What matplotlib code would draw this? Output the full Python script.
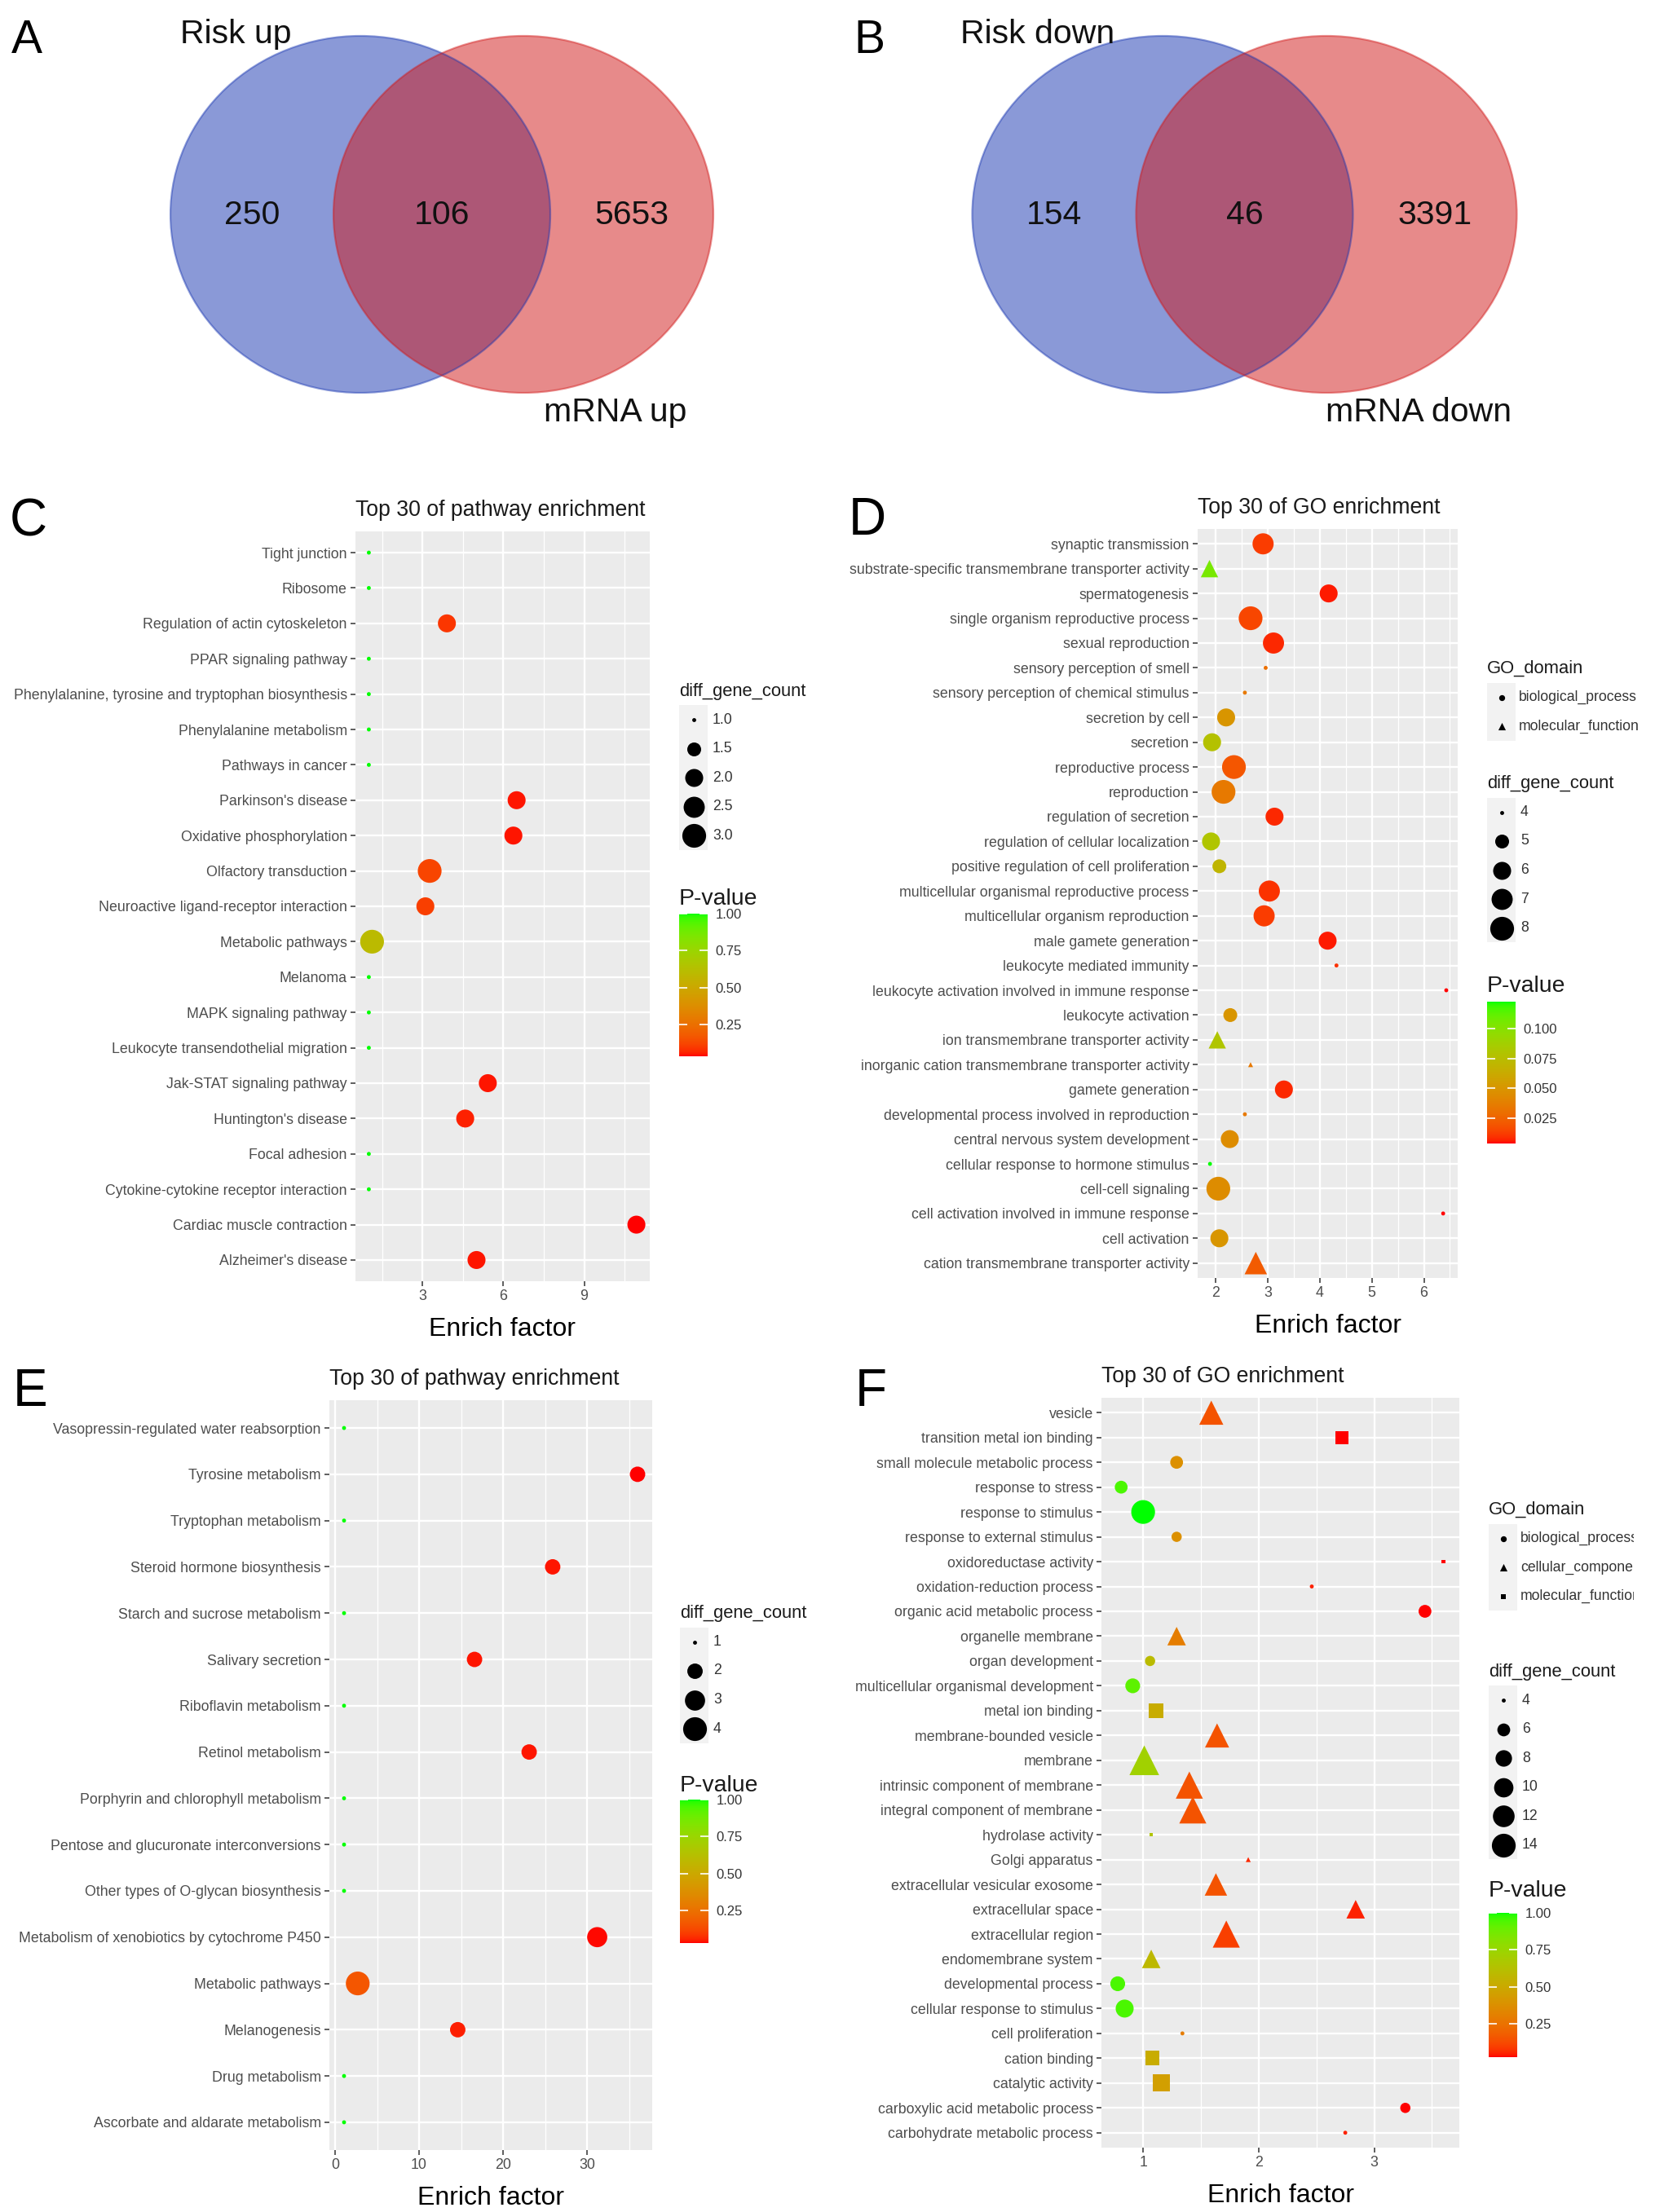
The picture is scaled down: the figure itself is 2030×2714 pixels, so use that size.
import numpy as np
import matplotlib
matplotlib.use("Agg")
import matplotlib.pyplot as plt
from matplotlib.patches import Ellipse, Rectangle
from matplotlib.colors import ListedColormap, Normalize
from matplotlib.cm import ScalarMappable

plt.rcParams['font.family'] = ['Liberation Sans', 'DejaVu Sans']

# ---------------- data ----------------
venn_a_names = ["Risk up", "mRNA up"]
venn_a_counts = [250, 106, 5653]      # left only, both, right only
venn_b_names = ["Risk down", "mRNA down"]
venn_b_counts = [154, 46, 3391]

c_terms = ["Tight junction", "Ribosome", "Regulation of actin cytoskeleton",
           "PPAR signaling pathway", "Phenylalanine, tyrosine and tryptophan biosynthesis",
           "Phenylalanine metabolism", "Pathways in cancer", "Parkinson's disease",
           "Oxidative phosphorylation", "Olfactory transduction",
           "Neuroactive ligand-receptor interaction", "Metabolic pathways", "Melanoma",
           "MAPK signaling pathway", "Leukocyte transendothelial migration",
           "Jak-STAT signaling pathway", "Huntington's disease", "Focal adhesion",
           "Cytokine-cytokine receptor interaction", "Cardiac muscle contraction",
           "Alzheimer's disease"]
c_factor = [1.0, 1.0, 3.9, 1.0, 1.0, 1.0, 1.0, 6.49, 6.37, 3.26, 3.1, 1.12, 1.0,
            1.0, 1.0, 5.42, 4.58, 1.0, 1.0, 10.94, 5.0]
c_count = [1, 1, 2, 1, 1, 1, 1, 2, 2, 3, 2, 3, 1, 1, 1, 2, 2, 1, 1, 2, 2]
c_pval = [1, 1, 0.09, 1, 1, 1, 1, 0.05, 0.05, 0.12, 0.11, 0.6, 1, 1, 1, 0.05,
          0.06, 1, 1, 0.037, 0.05]

d_terms = ["synaptic transmission", "substrate-specific transmembrane transporter activity",
           "spermatogenesis", "single organism reproductive process", "sexual reproduction",
           "sensory perception of smell", "sensory perception of chemical stimulus",
           "secretion by cell", "secretion", "reproductive process", "reproduction",
           "regulation of secretion", "regulation of cellular localization",
           "positive regulation of cell proliferation",
           "multicellular organismal reproductive process",
           "multicellular organism reproduction", "male gamete generation",
           "leukocyte mediated immunity", "leukocyte activation involved in immune response",
           "leukocyte activation", "ion transmembrane transporter activity",
           "inorganic cation transmembrane transporter activity", "gamete generation",
           "developmental process involved in reproduction",
           "central nervous system development", "cellular response to hormone stimulus",
           "cell-cell signaling", "cell activation involved in immune response",
           "cell activation", "cation transmembrane transporter activity"]
d_factor = [2.91, 1.88, 4.17, 2.67, 3.11, 2.96, 2.56, 2.2, 1.93, 2.35, 2.15, 3.13,
            1.91, 2.07, 3.03, 2.93, 4.15, 4.32, 6.43, 2.28, 2.03, 2.67, 3.31, 2.56,
            2.27, 1.89, 2.05, 6.37, 2.07, 2.77]
d_count = [7, 5, 6, 8, 7, 4, 4, 6, 6, 8, 8, 6, 6, 5, 7, 7, 6, 4, 4, 5, 5, 4, 6, 4,
           6, 4, 8, 4, 6, 6]
d_pval = [0.012, 0.105, 0.006, 0.015, 0.008, 0.03, 0.035, 0.05, 0.078, 0.02, 0.035,
          0.008, 0.08, 0.07, 0.01, 0.012, 0.006, 0.01, 0.004, 0.05, 0.08, 0.035,
          0.008, 0.035, 0.045, 0.1225, 0.045, 0.004, 0.05, 0.022]
d_levels = ["biological_process", "molecular_function"]
d_domain = ["biological_process"] * 30
for i in (1, 20, 21, 29):
    d_domain[i] = "molecular_function"

e_terms = ["Vasopressin-regulated water reabsorption", "Tyrosine metabolism",
           "Tryptophan metabolism", "Steroid hormone biosynthesis",
           "Starch and sucrose metabolism", "Salivary secretion", "Riboflavin metabolism",
           "Retinol metabolism", "Porphyrin and chlorophyll metabolism",
           "Pentose and glucuronate interconversions", "Other types of O-glycan biosynthesis",
           "Metabolism of xenobiotics by cytochrome P450", "Metabolic pathways",
           "Melanogenesis", "Drug metabolism", "Ascorbate and aldarate metabolism"]
e_factor = [1.07, 36.0, 1.07, 25.9, 1.07, 16.6, 1.07, 23.1, 1.07, 1.07, 1.07, 31.2,
            2.7, 14.6, 1.07, 1.07]
e_count = [1, 2, 1, 2, 1, 2, 1, 2, 1, 1, 1, 3, 4, 2, 1, 1]
e_pval = [1, 0.03, 1, 0.045, 1, 0.045, 1, 0.045, 1, 1, 1, 0.035, 0.16, 0.05, 1, 1]

f_terms = ["vesicle", "transition metal ion binding", "small molecule metabolic process",
           "response to stress", "response to stimulus", "response to external stimulus",
           "oxidoreductase activity", "oxidation-reduction process",
           "organic acid metabolic process", "organelle membrane", "organ development",
           "multicellular organismal development", "metal ion binding",
           "membrane-bounded vesicle", "membrane", "intrinsic component of membrane",
           "integral component of membrane", "hydrolase activity", "Golgi apparatus",
           "extracellular vesicular exosome", "extracellular space", "extracellular region",
           "endomembrane system", "developmental process", "cellular response to stimulus",
           "cell proliferation", "cation binding", "catalytic activity",
           "carboxylic acid metabolic process", "carbohydrate metabolic process"]
f_factor = [1.59, 2.72, 1.29, 0.81, 1.0, 1.29, 3.6, 2.46, 3.44, 1.29, 1.06, 0.91,
            1.11, 1.64, 1.01, 1.4, 1.43, 1.07, 1.91, 1.63, 2.84, 1.72, 1.07, 0.78,
            0.84, 1.34, 1.08, 1.16, 3.27, 2.75]
f_count = [10, 7, 6, 6, 14, 5, 4, 4, 6, 7, 5, 7, 8, 10, 14, 12, 12, 4, 4, 9, 7, 12,
           7, 7, 9, 4, 8, 10, 5, 4]
f_pval = [0.15, 0.03, 0.38, 0.95, 1.0, 0.38, 0.03, 0.05, 0.027, 0.3, 0.6, 0.92, 0.52,
          0.15, 0.72, 0.15, 0.15, 0.65, 0.06, 0.15, 0.05, 0.1, 0.58, 0.95, 0.95, 0.3,
          0.52, 0.45, 0.03, 0.05]
f_levels = ["biological_process", "cellular_component", "molecular_function"]
f_domain = ["cellular_component", "molecular_function", "biological_process",
            "biological_process", "biological_process", "biological_process",
            "molecular_function", "biological_process", "biological_process",
            "cellular_component", "biological_process", "biological_process",
            "molecular_function", "cellular_component", "cellular_component",
            "cellular_component", "cellular_component", "molecular_function",
            "cellular_component", "cellular_component", "cellular_component",
            "cellular_component", "cellular_component", "biological_process",
            "biological_process", "biological_process", "molecular_function",
            "molecular_function", "biological_process", "biological_process"]

# ---------------- helpers ----------------
W, H = 2031, 2714
fig = plt.figure(figsize=(W / 100, H / 100), dpi=100)


def px_axes(x0, y0, x1, y1, **kw):
    return fig.add_axes([x0 / W, 1 - y1 / H, (x1 - x0) / W, (y1 - y0) / H], **kw)


# red -> green gradient interpolated in CIELAB (like ggplot's scale_colour_gradient)
M = np.array([[0.4124564, 0.3575761, 0.1804375],
              [0.2126729, 0.7151522, 0.0721750],
              [0.0193339, 0.1191920, 0.9503041]])
WHITE = np.array([0.95047, 1.0, 1.08883])


def to_lab(rgb):
    rgb = np.asarray(rgb, float)
    lin = np.where(rgb <= 0.04045, rgb / 12.92, ((rgb + 0.055) / 1.055) ** 2.4)
    xyz = M @ lin / WHITE
    f = np.where(xyz > 0.008856, np.cbrt(xyz), 7.787 * xyz + 16 / 116)
    return np.array([116 * f[1] - 16, 500 * (f[0] - f[1]), 200 * (f[1] - f[2])])


def from_lab(lab):
    L, a, b = lab.T
    fy = (L + 16) / 116
    f = np.stack([fy + a / 500, fy, fy - b / 200])
    xyz = np.where(f > 0.2069, f ** 3, (f - 16 / 116) / 7.787) * WHITE[:, None]
    lin = np.clip(np.linalg.inv(M) @ xyz, 0, 1)
    rgb = np.where(lin <= 0.0031308, 12.92 * lin, 1.055 * lin ** (1 / 2.4) - 0.055)
    return np.clip(rgb.T, 0, 1)


t = np.linspace(0, 1, 256)[:, None]
CMAP = ListedColormap(from_lab((1 - t) * to_lab([1, 0, 0]) + t * to_lab([0, 1, 0])))

UNIT = 3.5                     # points per ggplot size unit
SHAPES = ['o', '^', 's']
SHAPE_SCALE = [1.0, 1.25, 0.886]
AX_GREY = '#4D4D4D'


def dot_diam(v, lo, hi):
    v = np.asarray(v, float)
    return UNIT * (1 + 5 * np.sqrt((v - lo) / (hi - lo)))


def bubble(box, title, terms, factor, count, pval, ticks, domain=None, levels=None):
    ax = px_axes(*box)
    n = len(terms)
    y = np.arange(n)[::-1]
    x = np.asarray(factor, float)
    c = np.asarray(count, float)
    p = np.asarray(pval, float)
    norm = Normalize(p.min(), p.max())
    diam = dot_diam(c, c.min(), c.max())
    idx = np.zeros(n, int) if domain is None else np.array([levels.index(d) for d in domain])
    for k in range(idx.max() + 1):
        m = idx == k
        ax.scatter(x[m], y[m], s=(diam[m] * SHAPE_SCALE[k]) ** 2, c=p[m], cmap=CMAP,
                   norm=norm, marker=SHAPES[k], linewidths=0, zorder=3)
    pad = 0.05 * (x.max() - x.min())
    ax.set_xlim(x.min() - pad, x.max() + pad)
    ax.set_ylim(-0.6, n - 0.4)
    ax.set_yticks(y)
    ax.set_yticklabels(terms)
    ax.set_xticks(ticks)
    ax.set_xticklabels(['%g' % v for v in ticks])
    step = ticks[1] - ticks[0]
    lo, hi = ax.get_xlim()
    minor = np.arange(ticks[0] - step / 2, ticks[-1] + step, step)
    ax.set_xticks([v for v in minor if lo < v < hi], minor=True)

    ax.set_facecolor('#EBEBEB')
    for s in ax.spines.values():
        s.set_visible(False)
    ax.grid(True, which='major', color='white', lw=1.7)
    ax.grid(True, which='minor', axis='x', color='white', lw=0.9)
    ax.set_axisbelow(True)
    ax.tick_params(which='major', length=4.3, width=1.1, color='#333333',
                   labelcolor=AX_GREY, labelsize=12.8, pad=3)
    ax.tick_params(which='minor', length=0)

    ph = box[3] - box[1]
    ax.text(0, 1 + 19 / ph, title, transform=ax.transAxes, ha='left', va='baseline',
            fontsize=19.2, color='#1A1A1A')
    ax.text(0.5, -67 / ph, 'Enrich factor', transform=ax.transAxes, ha='center',
            va='baseline', fontsize=23, color='black')
    return ax, norm, (c.min(), c.max())


# overlay in pixel coordinates for venns, letters and legends
ov = fig.add_axes([0, 0, 1, 1], zorder=-1)
ov.set_xlim(0, W)
ov.set_ylim(H, 0)
ov.axis('off')


def venn(left_cx, right_cx, cy, w, h, names, counts):
    blue, red = '#1735B1', '#D11717'
    ov.add_patch(Ellipse((left_cx, cy), w, h, facecolor=blue, alpha=0.5, lw=0))
    ov.add_patch(Ellipse((right_cx, cy), w, h, facecolor=red, alpha=0.5, lw=0))
    ov.add_patch(Ellipse((left_cx, cy), w, h, fill=False, edgecolor=blue, alpha=0.45, lw=1.6))
    ov.add_patch(Ellipse((right_cx, cy), w, h, fill=False, edgecolor=red, alpha=0.45, lw=1.6))
    l_left, l_right = left_cx - w / 2, left_cx + w / 2
    r_left, r_right = right_cx - w / 2, right_cx + w / 2
    xs = [(l_left + r_left) / 2, (l_right + r_left) / 2, (l_right + r_right) / 2]
    for xx, v in zip(xs, counts):
        ov.text(xx, 275, str(v), ha='center', va='baseline', fontsize=29.5, color='#111111')
    ov.text(left_cx - 153, 53, names[0], ha='center', va='baseline', fontsize=29.5,
            color='#111111')
    ov.text(right_cx + 113, 517, names[1], ha='center', va='baseline', fontsize=29.5,
            color='#111111')


venn(442, 642, 263, 466, 438, venn_a_names, venn_a_counts)
venn(1426, 1627, 263, 467, 438, venn_b_names, venn_b_counts)

for letter, lx, ly, fs in [('A', 14, 65, 41), ('B', 1047, 65, 41), ('C', 12, 657, 46),
                           ('D', 1041, 656, 46), ('E', 16, 1725, 46), ('F', 1049, 1725, 46)]:
    ov.text(lx, ly, letter, ha='left', va='baseline', fontsize=fs, color='black')

# the bottom-right panel was cut at its right edge in the original figure
clip_rect = Rectangle((0, 0), 2004, H, transform=ov.transData)


def legend_sizes(x0, ty, breaks, lims, fmt):
    ov.text(x0, ty, 'diff_gene_count', fontsize=15.8, va='center', ha='left', color='#1A1A1A')
    for i, b in enumerate(breaks):
        yk = ty + 34.5 + i * 35.5
        ov.add_patch(Rectangle((x0, yk - 17.75), 35, 35.5, facecolor='#F2F2F2', lw=0))
        ov.scatter([x0 + 17.5], [yk], s=dot_diam(b, *lims) ** 2, color='black', linewidths=0)
        ov.text(x0 + 41, yk, fmt % b, fontsize=12.7, va='center', ha='left', color='#333333')


def legend_domain(x0, ty, levels, clip=False):
    ov.text(x0, ty, 'GO_domain', fontsize=15.8, va='center', ha='left', color='#1A1A1A')
    for i, lev in enumerate(levels):
        yk = ty + 35.5 * (i + 1)
        ov.add_patch(Rectangle((x0, yk - 17.75), 35, 35.5, facecolor='#F2F2F2', lw=0))
        ov.scatter([x0 + 17.5], [yk], s=(1.5 * UNIT * SHAPE_SCALE[i]) ** 2, color='black',
                   marker=SHAPES[i], linewidths=0)
        txt = ov.text(x0 + 39, yk, lev, fontsize=12.7, va='center', ha='left',
                      color='#333333', clip_on=clip)
        if clip:
            txt.set_clip_path(clip_rect)


def legend_pvalue(x0, ty, y_top, y_bot, norm, ticks, fmt):
    ov.text(x0, ty, 'P-value', fontsize=20.4, va='center', ha='left', color='#1A1A1A')
    cax = px_axes(x0, y_top, x0 + 35, y_bot)
    cb = fig.colorbar(ScalarMappable(norm=norm, cmap=CMAP), cax=cax)
    cb.outline.set_visible(False)
    cb.set_ticks(ticks)
    cb.set_ticklabels([fmt % v for v in ticks])
    cb.minorticks_off()
    cax.tick_params(which='major', direction='in', length=7, width=1.2, color='white',
                    left=True, right=True, labelsize=12, labelcolor='#333333', pad=7)


# ---------------- panels ----------------
ax_c, norm_c, lim_c = bubble((436, 652, 797, 1572), 'Top 30 of pathway enrichment',
                             c_terms, c_factor, c_count, c_pval, [3, 6, 9])
legend_sizes(833, 848.6, [1.0, 1.5, 2.0, 2.5, 3.0], lim_c, '%.1f')
legend_pvalue(833, 1103, 1120.6, 1296, norm_c, [0.25, 0.5, 0.75, 1.0], '%.2f')

ax_d, norm_d, lim_d = bubble((1469, 649, 1788.5, 1568), 'Top 30 of GO enrichment',
                             d_terms, d_factor, d_count, d_pval, [2, 3, 4, 5, 6],
                             d_domain, d_levels)
legend_domain(1824, 820, d_levels)
legend_sizes(1824, 962, [4, 5, 6, 7, 8], lim_d, '%d')
legend_pvalue(1824, 1210, 1229, 1403, norm_d, [0.025, 0.05, 0.075, 0.1], '%.3f')

ax_e, norm_e, lim_e = bubble((404, 1718, 800, 2638), 'Top 30 of pathway enrichment',
                             e_terms, e_factor, e_count, e_pval, [0, 10, 20, 30])
legend_sizes(834, 1980, [1, 2, 3, 4], lim_e, '%d')
legend_pvalue(834, 2191, 2208, 2384, norm_e, [0.25, 0.5, 0.75, 1.0], '%.2f')

ax_f, norm_f, lim_f = bubble((1351, 1715, 1790.5, 2635), 'Top 30 of GO enrichment',
                             f_terms, f_factor, f_count, f_pval, [1, 2, 3],
                             f_domain, f_levels)
legend_domain(1826, 1852, f_levels, clip=True)
legend_sizes(1826, 2051.6, [4, 6, 8, 10, 12, 14], lim_f, '%d')
legend_pvalue(1826, 2320, 2347, 2524, norm_f, [0.25, 0.5, 0.75, 1.0], '%.2f')

fig.savefig('out.png', dpi=100, facecolor='white')
